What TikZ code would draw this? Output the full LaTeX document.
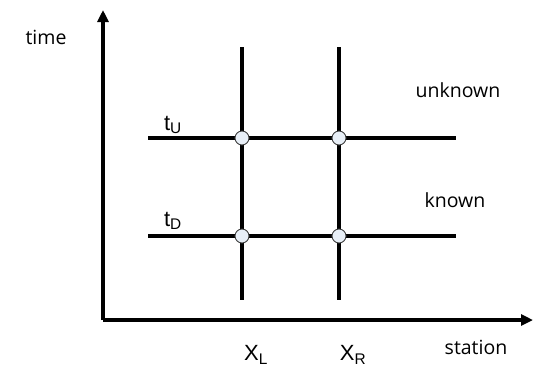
\documentclass[tikz,border=0pt]{standalone}
\usepackage{fontspec}
\setmainfont{Open Sans}
\newfontfamily\arialfont{Liberation Sans}
\usetikzlibrary{arrows.meta,positioning}
\definecolor{dotfill}{RGB}{232,239,247}
\tikzstyle{axis} = [
    -{Triangle[length=12pt,width=11pt]},
    line width=3.4pt
]
\tikzstyle{gridline} = [
    line width=3.3pt
]
\tikzstyle{dot} = [
    circle,
    draw=black!75,
    fill=dotfill,
    line width=0.9pt,
    minimum size=14pt,
    inner sep=0pt
]
\tikzstyle{lbl} = [
    font=\fontsize{19.5}{22}\selectfont,
    inner sep=0pt
]
\tikzstyle{sym} = [
    font=\arialfont\fontsize{22}{25}\selectfont,
    inner sep=0pt
]

\begin{document}
\begin{tikzpicture}[x=1pt, y=-1pt]
    \useasboundingbox (0,0) rectangle (534,376);

    % Axes
    \coordinate (origin) at (103,320);
    \coordinate (ytop) at (103,10);
    \coordinate (xend) at (533,320);
    \draw[axis] (origin) -- (ytop);
    \draw[axis] (origin) -- (xend);

    % Grid lines
    \coordinate (lt) at (242,47);
    \coordinate (lb) at (242,300);
    \coordinate (rt) at (339,47);
    \coordinate (rb) at (339,300);
    \coordinate (ul) at (148,138);
    \coordinate (ur) at (456,138);
    \coordinate (dl) at (148,236);
    \coordinate (dr) at (456,236);
    \draw[gridline] (lt) -- (lb);
    \draw[gridline] (rt) -- (rb);
    \draw[gridline] (ul) -- (ur);
    \draw[gridline] (dl) -- (dr);

    % Points
    \node[dot] (lu) at (242,138) {};
    \node[dot] (ru) at (339,138) {};
    \node[dot] (ld) at (242,236) {};
    \node[dot] (rd) at (339,236) {};

    % Labels
    \node[lbl] (time) at (46,37) {time};
    \node[lbl] (station) at (476,347) {station};
    \node[lbl] (unknown) at (458,90) {unknown};
    \node[lbl] (known) at (455,200) {known};
    \node[sym] (tu) at (173,125) {t\textsubscript{U}};
    \node[sym] (td) at (173,221) {t\textsubscript{D}};
    \node[sym] (xl) at (256,355) {X\textsubscript{L}};
    \node[sym] (xr) at (353,355) {X\textsubscript{R}};
\end{tikzpicture}
\end{document}
